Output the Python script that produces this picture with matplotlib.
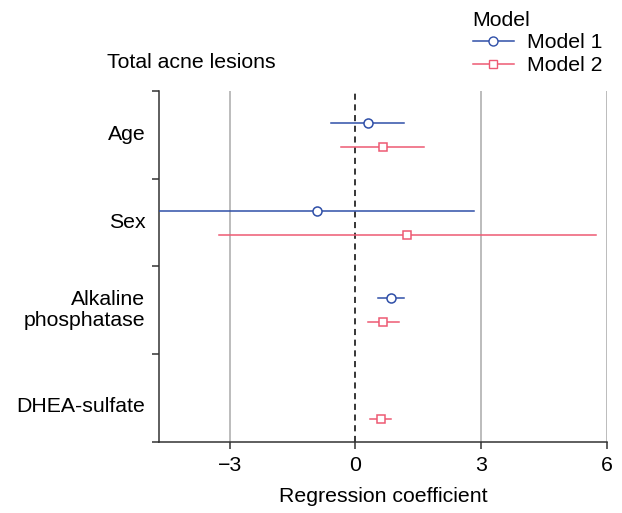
import matplotlib

matplotlib.use("Agg")

import matplotlib.pyplot as plt
import numpy as np
from matplotlib.lines import Line2D

plt.rcParams["font.family"] = ["Liberation Sans", "DejaVu Sans"]

# data
categories = ["Age", "Sex", "Alkaline\nphosphatase", "DHEA-sulfate"]
m1_est = [0.29, -0.92, 0.85, np.nan]
m1_lo = [-0.58, -5.0, 0.55, np.nan]
m1_hi = [1.15, 2.84, 1.16, np.nan]
m2_est = [0.65, 1.23, 0.67, 0.60]
m2_lo = [-0.34, -3.26, 0.29, 0.35]
m2_hi = [1.63, 5.74, 1.05, 0.86]
xticks = [-3, 0, 3, 6]

BLUE = "#2F4FA8"
RED = "#EE5A73"
FS = 15.3

fig = plt.figure(figsize=(6.22, 5.13), dpi=100)
ax = fig.add_axes([159 / 622, 1 - 441.7 / 513, (606.7 - 159) / 622, (441.7 - 91) / 513])

row_shift = np.array([0.0, 0.0, 0.0, 0.1])
centers = np.arange(len(categories)) + 0.5 + row_shift
off = 0.137

for est, lo, hi, dy, col, mk, ms in [
    (m1_est, m1_lo, m1_hi, -off, BLUE, "o", 6.5),
    (m2_est, m2_lo, m2_hi, off, RED, "s", 5.2),
]:
    y = centers + dy
    for e, l, h, yy in zip(est, lo, hi, y):
        if np.isnan(e):
            continue
        ax.plot([l, h], [yy, yy], color=col, lw=1.1, zorder=3, clip_on=True)
        ax.plot(e, yy, marker=mk, ms=ms, mfc="white", mec=col, mew=1.1, zorder=4)

for gx in [-3, 3, 6]:
    ax.axvline(gx, color="#b0b0b0", lw=1.2, zorder=1)
ax.axvline(0, color="black", lw=1.1, ls=(0, (4, 3)), zorder=2)

ax.set_xlim(-4.69, 6.0)
ax.set_ylim(len(categories), 0)
ax.set_xticks(xticks)
ax.set_xticklabels(["\u22123", "0", "3", "6"])
ax.set_yticks(np.arange(len(categories) + 1))
ax.set_yticklabels([])
for c, yc in zip(categories, centers):
    ax.text(-0.03, yc, c, transform=ax.get_yaxis_transform(), ha="right",
            va="center", fontsize=FS, linespacing=1.1)

ax.spines["top"].set_visible(False)
ax.spines["right"].set_visible(False)
for s in ["left", "bottom"]:
    ax.spines[s].set_color("#333333")
    ax.spines[s].set_linewidth(1.1)
ax.tick_params(axis="both", direction="out", length=5, width=1.1, color="#333333",
               labelsize=FS, pad=5)
ax.set_xlabel("Regression coefficient", fontsize=FS, labelpad=9)

fig.text(107 / 622, 1 - 62 / 513, "Total acne lesions", fontsize=FS, va="center")

handles = [
    Line2D([], [], color=BLUE, lw=1.1, marker="o", ms=6.5, mfc="white", mec=BLUE),
    Line2D([], [], color=RED, lw=1.1, marker="s", ms=5.2, mfc="white", mec=RED),
]
fig.legend(handles, ["Model 1", "Model 2"], title="Model", loc="upper left",
           bbox_to_anchor=(462 / 622, 1.0), frameon=False, fontsize=FS,
           title_fontsize=FS, alignment="left", handlelength=1.95,
           handletextpad=0.6, labelspacing=0.18, borderaxespad=0.1)

fig.savefig("out.png", dpi=100)
